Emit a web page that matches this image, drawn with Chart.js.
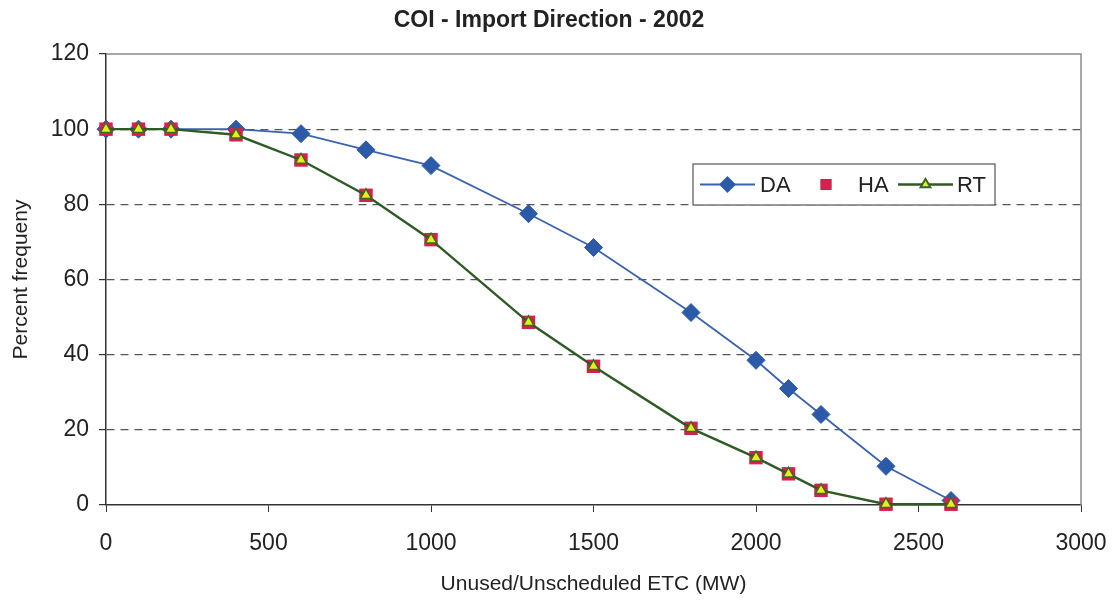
<!DOCTYPE html>
<html>
<head>
<meta charset="utf-8">
<script src="https://cdn.jsdelivr.net/npm/chart.js@4/dist/chart.umd.min.js"></script>
<style>
  html, body { margin: 0; padding: 0; background: #fff; }
  #wrap { width: 1112px; height: 602px; position: relative; }
</style>
</head>
<body>
<div id="wrap"><canvas id="grafico"></canvas></div>
<script>
// Datos
const etcMW = [0, 100, 200, 400, 600, 800, 1000, 1300, 1500, 1800, 2000, 2100, 2200, 2400, 2600];
const serieDA = [100, 100, 100, 100, 98.8, 94.5, 90.3, 77.5, 68.5, 51.2, 38.5, 31, 24.1, 10.3, 1.2];
const serieHA = [100, 100, 100, 98.5, 91.8, 82.4, 70.6, 48.6, 36.9, 20.4, 12.6, 8.3, 3.9, 0.2, 0.2];
const serieRT = [100, 100, 100, 98.5, 91.8, 82.4, 70.6, 48.6, 36.9, 20.4, 12.6, 8.3, 3.9, 0.2, 0.2];
const xTicks = [0, 500, 1000, 1500, 2000, 2500, 3000];
const yTicks = [0, 20, 40, 60, 80, 100, 120];

const puntos = serie => etcMW.map((x, i) => ({ x: x, y: serie[i] }));

// Titulo, marco del area y leyenda dibujados a mano
const marcoYLeyenda = {
    id: 'marcoYLeyenda',
    afterDraw(chart) {
        const ctx = chart.ctx;
        const a = chart.chartArea;
        ctx.save();
        // marco gris arriba y a la derecha
        ctx.strokeStyle = '#8a8a8a';
        ctx.lineWidth = 1.5;
        ctx.beginPath();
        ctx.moveTo(a.left, a.top);
        ctx.lineTo(a.right, a.top);
        ctx.lineTo(a.right, a.bottom);
        ctx.stroke();

        // titulo
        ctx.fillStyle = '#222';
        ctx.font = 'bold 23px "Liberation Sans", Arial, sans-serif';
        ctx.textAlign = 'center';
        ctx.textBaseline = 'middle';
        ctx.fillText('COI - Import Direction - 2002', 549, 21);

        // leyenda
        const lx = 693, ly = 164, lw = 302, lh = 41;
        ctx.fillStyle = '#fff';
        ctx.fillRect(lx, ly, lw, lh);
        ctx.strokeStyle = '#555';
        ctx.lineWidth = 1.2;
        ctx.strokeRect(lx, ly, lw, lh);
        const cy = ly + lh / 2;
        ctx.font = '22px "Liberation Sans", Arial, sans-serif';
        ctx.textAlign = 'left';
        const ds = chart.data.datasets;
        const items = [
            { d: ds[0], x0: 700, x1: 755, tx: 760 },
            { d: ds[1], x0: 812, x1: 840, tx: 858 },
            { d: ds[2], x0: 898, x1: 953, tx: 957 }
        ];
        items.forEach(it => {
            const d = it.d;
            if (d.showLine !== false) {
                ctx.strokeStyle = d.borderColor;
                ctx.lineWidth = d.borderWidth;
                ctx.beginPath();
                ctx.moveTo(it.x0, cy);
                ctx.lineTo(it.x1, cy);
                ctx.stroke();
            }
            const mx = d.showLine !== false ? (it.x0 + it.x1) / 2 : it.x0 + 14;
            Chart.helpers.drawPoint(ctx, {
                pointStyle: d.pointStyle,
                radius: d.pointRadius * 0.8,
                rotation: 0,
                borderWidth: d.pointBorderWidth
            }, mx, cy);
            ctx.fillStyle = d.pointBackgroundColor;
            ctx.strokeStyle = d.pointBorderColor;
            ctx.lineWidth = d.pointBorderWidth;
            ctx.fill();
            if (d.pointBorderWidth) ctx.stroke();
            ctx.fillStyle = '#222';
            ctx.fillText(d.label, it.tx, cy + 1);
        });
        ctx.restore();
    }
};

const fuenteEje = { family: '"Liberation Sans", Arial, sans-serif', size: 23 };

const config = {
    type: 'line',
    data: {
        datasets: [{
            label: 'DA',
            data: puntos(serieDA),
            borderColor: '#3a62b0',
            borderWidth: 1.8,
            pointStyle: 'rectRot',
            pointRadius: 9,
            pointBackgroundColor: '#2c5aa8',
            pointBorderColor: '#2c5aa8',
            pointBorderWidth: 1,
            clip: false,
            order: 2
        }, {
            label: 'HA',
            data: puntos(serieHA),
            showLine: false,
            borderColor: '#d8204f',
            pointStyle: 'rect',
            pointRadius: 9.5,
            pointBackgroundColor: '#d8204f',
            pointBorderColor: '#d8204f',
            pointBorderWidth: 0,
            clip: false,
            order: 1
        }, {
            label: 'RT',
            data: puntos(serieRT),
            borderColor: '#2e5a24',
            borderWidth: 2.4,
            pointStyle: 'triangle',
            pointRadius: 6.5,
            pointBackgroundColor: '#e6ee1e',
            pointBorderColor: '#3a6a22',
            pointBorderWidth: 1.5,
            clip: false,
            order: 0
        }]
    },
    options: {
        responsive: true,
        maintainAspectRatio: false,
        animation: false,
        layout: { padding: { top: 54, right: 31, left: 0, bottom: 0 } },
        plugins: {
            legend: { display: false },
            title: { display: false },
            tooltip: { enabled: false }
        },
        scales: {
            x: {
                type: 'linear',
                min: 0,
                max: 3000,
                afterBuildTicks: s => { s.ticks = xTicks.map(v => ({ value: v })); },
                afterFit: s => { s.height = 97; s.paddingLeft = 0; s.paddingRight = 0; },
                ticks: { color: '#222', font: fuenteEje, padding: 18, maxRotation: 0, callback: v => String(v) },
                grid: { drawOnChartArea: false, drawTicks: true, tickLength: 7, tickColor: '#333', color: '#333' },
                border: { display: true, color: '#333', width: 1.5 },
                title: {
                    display: true,
                    text: 'Unused/Unscheduled ETC (MW)',
                    color: '#222',
                    font: { family: '"Liberation Sans", Arial, sans-serif', size: 21 },
                    padding: { top: 4, bottom: 5 }
                }
            },
            y: {
                min: 0,
                max: 120,
                afterBuildTicks: s => { s.ticks = yTicks.map(v => ({ value: v })); },
                afterFit: s => { s.width = 106; s.paddingTop = 0; s.paddingBottom = 0; },
                ticks: { color: '#222', font: fuenteEje, padding: 10, callback: v => String(v) },
                grid: {
                    color: c => (c.tick && (c.tick.value === 0 || c.tick.value === 120)) ? 'rgba(0,0,0,0)' : '#555',
                    lineWidth: 1.2,
                    drawTicks: true,
                    tickLength: 7,
                    tickColor: '#333'
                },
                border: { display: true, color: '#333', width: 1.5, dash: [8, 6] },
                title: {
                    display: true,
                    text: 'Percent frequeny',
                    color: '#222',
                    font: { family: '"Liberation Sans", Arial, sans-serif', size: 21 },
                    padding: { top: 9, bottom: 4 }
                }
            }
        }
    },
    plugins: [marcoYLeyenda]
};

const ctx = document.getElementById('grafico');
const miGrafico = new Chart(ctx, config);
</script>
</body>
</html>
